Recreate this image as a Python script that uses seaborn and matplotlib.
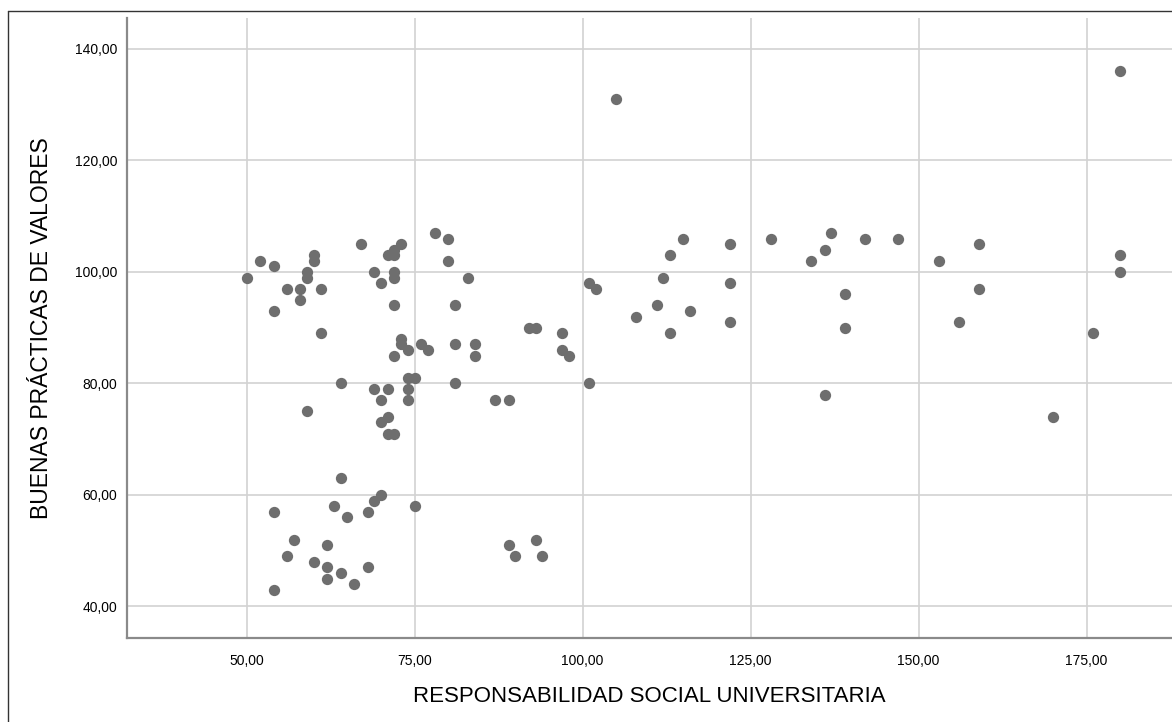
import matplotlib
matplotlib.use("agg")
import matplotlib.pyplot as plt
from matplotlib.lines import Line2D
import pandas as pd
import seaborn as sns

# RSU score vs BPV score
rsu = [50, 52, 54, 56, 58, 58, 54, 60, 60, 59, 59, 61, 61, 67, 69, 70, 71, 72, 72, 73,
       72, 72, 72, 73, 73, 74, 72, 76, 77, 74, 75, 74, 74, 64, 69, 71, 70, 59, 71, 70,
       71, 72, 78, 80, 80, 83, 81, 81, 84, 84, 81, 87, 89, 92, 93, 97, 97, 98, 101, 102,
       101, 64, 70, 69, 63, 75, 54, 68, 65, 57, 62, 56, 60, 62, 62, 64, 68, 66, 54, 89,
       90, 93, 94, 115, 113, 112, 111, 108, 116, 113, 122, 122, 122, 128, 134, 136, 137, 142, 139, 139,
       136, 147, 153, 159, 159, 156, 170, 176, 180, 180, 180, 105]
bpv = [99, 102, 101, 97, 97, 95, 93, 103, 102, 100, 99, 97, 89, 105, 100, 98, 103, 104, 103, 105,
       100, 99, 94, 88, 87, 86, 85, 87, 86, 81, 81, 79, 77, 80, 79, 79, 77, 75, 74, 73,
       71, 71, 107, 106, 102, 99, 94, 87, 87, 85, 80, 77, 77, 90, 90, 89, 86, 85, 98, 97,
       80, 63, 60, 59, 58, 58, 57, 57, 56, 52, 51, 49, 48, 47, 45, 46, 47, 44, 43, 51,
       49, 52, 49, 106, 103, 99, 94, 92, 93, 89, 105, 98, 91, 106, 102, 104, 107, 106, 96, 90,
       78, 106, 102, 105, 97, 91, 74, 89, 103, 100, 136, 131]

x_ticks = [50, 75, 100, 125, 150, 175]
y_ticks = [40, 60, 80, 100, 120, 140]
x_label = "RESPONSABILIDAD SOCIAL UNIVERSITARIA"
y_label = "BUENAS PRÁCTICAS DE VALORES"

df = pd.DataFrame({"rsu": rsu, "bpv": bpv})

sns.set_style("white")
plt.rcParams["font.family"] = ["Liberation Sans", "DejaVu Sans"]

W, H = 1172, 722
fig = plt.figure(figsize=(W / 100, H / 100), dpi=100)
ax = fig.add_axes([127 / W, 1 - 637.7 / H, 1 - 127 / W, (637.7 - 18.3) / H])

sns.scatterplot(data=df, x="rsu", y="bpv", ax=ax, color="#6e6e6e",
                s=66, linewidth=0, alpha=1, zorder=3)

ax.set_xlim(32.2, 187.7)
ax.set_ylim(34.4, 145.5)
ax.set_xticks(x_ticks)
ax.set_yticks(y_ticks)
ax.set_xticklabels([f"{v:.2f}".replace(".", ",") for v in x_ticks])
ax.set_yticklabels([f"{v:.2f}".replace(".", ",") for v in y_ticks])
ax.tick_params(axis="both", length=0, labelsize=10, labelcolor="#000000")
ax.tick_params(axis="x", pad=12)
ax.tick_params(axis="y", pad=7)

ax.grid(True, color="#d2d2d2", linewidth=1.2, zorder=0)
ax.set_axisbelow(True)
for side in ["top", "right"]:
    ax.spines[side].set_visible(False)
for side in ["left", "bottom"]:
    ax.spines[side].set_color("#8a8a8a")
    ax.spines[side].set_linewidth(1.6)

ax.set_xlabel(x_label, fontsize=16, va="center", color="#000000")
ax.set_ylabel(y_label, fontsize=16.5, va="center", color="#000000")
ax.xaxis.set_label_coords(0.5, (637.7 - 696) / (637.7 - 18.3))
ax.yaxis.set_label_coords((42 - 127) / (W - 127), 0.5)

# thin frame around the exported chart (left and top edges visible)
bx, by = 7.5 / W, 1 - 10.7 / H
fig.add_artist(Line2D([bx, bx], [0, by], color="#333333", linewidth=1))
fig.add_artist(Line2D([bx, 1], [by, by], color="#333333", linewidth=1))

fig.savefig("out.png", dpi=100)
